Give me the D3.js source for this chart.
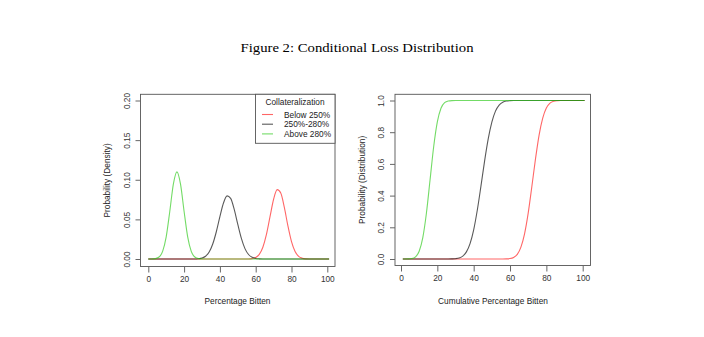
<!DOCTYPE html>
<html><head><meta charset="utf-8">
<script src="https://cdn.jsdelivr.net/npm/d3@7"></script>
<style>body{margin:0;background:#fff;}svg{display:block;}</style>
</head><body>
<script>
// ---- data ----
const seriesNames = ["Below 250%", "250%-280%", "Above 280%"];
const seriesColors = ["rgba(255,0,0,0.6)", "rgba(0,0,0,0.65)", "rgba(40,200,20,0.65)"];
const xTicks = [0, 20, 40, 60, 80, 100];
const densTicks = [0.00, 0.05, 0.10, 0.15, 0.20];
const cdfTicks = [0.0, 0.2, 0.4, 0.6, 0.8, 1.0];

// density: x positions and values
const redDensX = [0, 56, 58, 60, 62, 64, 66, 68, 70, 72, 74, 76, 78, 80, 82, 84, 86, 88, 90, 101];
const redDensY = [0, 0, 0.0005, 0.0019, 0.0058, 0.0148, 0.031, 0.0534, 0.0754, 0.0875, 0.0832, 0.065, 0.0417, 0.0219, 0.0095, 0.0034, 0.001, 0.0002, 0, 0];
const blackDensX = [0, 26, 28, 30, 32, 34, 36, 38, 40, 42, 44, 46, 48, 50, 52, 54, 56, 58, 60, 62, 64, 101];
const blackDensY = [0, 0, 0.0003, 0.0012, 0.0035, 0.0088, 0.0189, 0.0344, 0.0534, 0.0706, 0.0796, 0.0765, 0.0626, 0.0437, 0.026, 0.0131, 0.0057, 0.0021, 0.0007, 0.0002, 0, 0];
const greenDensX = [0, 2, 4, 6, 8, 10, 12, 14, 16, 18, 20, 22, 24, 26, 28, 30, 32, 101];
const greenDensY = [0, 0, 0.0005, 0.0025, 0.0097, 0.028, 0.06, 0.0945, 0.11, 0.0945, 0.06, 0.028, 0.0097, 0.0025, 0.0005, 0.0001, 0, 0];

// cumulative distribution
const redCdfX = [1, 56, 58, 60, 62, 64, 66, 68, 70, 72, 74, 76, 78, 80, 82, 84, 86, 88, 90, 101];
const redCdfY = [0, 0, 0.0007, 0.0027, 0.0099, 0.029, 0.075, 0.159, 0.289, 0.456, 0.63, 0.782, 0.889, 0.952, 0.983, 0.995, 0.9987, 0.9998, 1, 1];
const blackCdfX = [1, 26, 28, 30, 32, 34, 36, 38, 40, 42, 44, 46, 48, 50, 52, 54, 56, 58, 60, 62, 64, 101];
const blackCdfY = [0, 0, 0.0005, 0.0019, 0.0062, 0.018, 0.045, 0.097, 0.184, 0.309, 0.46, 0.618, 0.758, 0.864, 0.933, 0.971, 0.989, 0.9965, 0.999, 0.9998, 1, 1];
const greenCdfX = [1, 2, 4, 6, 8, 10, 12, 14, 16, 18, 20, 22, 24, 26, 28, 30, 32, 101];
const greenCdfY = [0, 0, 0.0005, 0.003, 0.014, 0.049, 0.135, 0.29, 0.5, 0.71, 0.865, 0.951, 0.986, 0.997, 0.9995, 0.9999, 1, 1];

const densSeries = [[redDensX, redDensY], [blackDensX, blackDensY], [greenDensX, greenDensY]];
const cdfSeries = [[redCdfX, redCdfY], [blackCdfX, blackCdfY], [greenCdfX, greenCdfY]];

// ---- drawing ----
const W = 704, H = 337;
const svg = d3.select("body").append("svg").attr("width", W).attr("height", H);
const sans = "'Liberation Sans', Arial, Helvetica, sans-serif";
const fs = "8.3px";

svg.append("text").attr("x", 357).attr("y", 51.5).attr("text-anchor", "middle")
  .style("font-family", "'Liberation Serif', 'DejaVu Serif', serif").style("font-size", "13px")
  .attr("textLength", 233).attr("lengthAdjust", "spacingAndGlyphs")
  .text("Figure 2: Conditional Loss Distribution");

function panel(cfg) {
  const g = svg.append("g");
  const x = d3.scaleLinear().domain([0, 100]).range([cfg.x0, cfg.x100]);
  const y = d3.scaleLinear().domain([cfg.yMin, cfg.yMax]).range([259, 100.5]);
  const box = cfg.box;
  // curves
  const line = d3.line().x(d => x(d[0])).y(d => y(d[1])).curve(d3.curveMonotoneX);
  cfg.series.forEach((s, i) => {
    const pts = s[0].map((v, k) => [v, s[1][k]]);
    g.append("path").attr("d", line(pts)).attr("fill", "none")
      .attr("stroke", seriesColors[i]).attr("stroke-width", 1.1);
  });
  // box
  g.append("rect").attr("x", box[0]).attr("y", box[1]).attr("width", box[2] - box[0]).attr("height", box[3] - box[1])
    .attr("fill", "none").attr("stroke", "#555").attr("stroke-width", 0.9);
  // x axis
  const xa = g.append("g").attr("transform", `translate(0,${box[3]})`)
    .call(d3.axisBottom(x).tickValues(xTicks).tickSize(6).tickSizeOuter(0).tickPadding(4).tickFormat(d3.format("d")));
  xa.select(".domain").remove();
  xa.selectAll(".tick line").attr("stroke", "#666");
  xa.selectAll("text").style("font-family", sans).style("font-size", fs).attr("fill", "#333");
  // y axis
  const ya = g.append("g").attr("transform", `translate(${box[0]},0)`)
    .call(d3.axisLeft(y).tickValues(cfg.yTicks).tickSize(5).tickSizeOuter(0).tickFormat(d3.format(cfg.fmt)));
  ya.select(".domain").remove();
  ya.selectAll(".tick line").attr("stroke", "#666");
  ya.selectAll("text").remove();
  ya.selectAll(".tick").append("text").attr("transform", `translate(-11,0) rotate(-90)`)
    .attr("text-anchor", "middle").attr("fill", "#333")
    .style("font-family", sans).style("font-size", fs).text(d => d3.format(cfg.fmt)(d));
  // axis titles
  g.append("text").attr("x", cfg.xlabX).attr("y", 303.5).attr("text-anchor", "middle")
    .style("font-family", sans).style("font-size", fs).attr("fill", "#222").text(cfg.xlab);
  g.append("text").attr("transform", `translate(${cfg.ylabX},${(box[1] + box[3]) / 2}) rotate(-90)`)
    .attr("text-anchor", "middle").style("font-family", sans).style("font-size", fs).attr("fill", "#222").text(cfg.ylab);
  return g;
}

panel({x0: 148.3, x100: 327.3, yMin: 0, yMax: 0.2, box: [140.5, 94.3, 335, 266.5],
  series: densSeries, yTicks: densTicks, fmt: ".2f", xlab: "Percentage Bitten", xlabX: 237.5,
  ylab: "Probability (Density)", ylabX: 110});
panel({x0: 401, x100: 582.7, yMin: 0, yMax: 1, box: [395, 94.3, 590.5, 265.5],
  series: cdfSeries, yTicks: cdfTicks, fmt: ".1f", xlab: "Cumulative Percentage Bitten", xlabX: 493,
  ylab: "Probability (Distribution)", ylabX: 364.5});

// legend
const lg = svg.append("g");
lg.append("rect").attr("x", 255.5).attr("y", 94.3).attr("width", 79.5).attr("height", 49)
  .attr("fill", "#fff").attr("stroke", "#555").attr("stroke-width", 0.9);
lg.append("text").attr("x", 295).attr("y", 104.8).attr("text-anchor", "middle")
  .style("font-family", sans).style("font-size", fs).attr("fill", "#222").text("Collateralization");
seriesNames.forEach((n, i) => {
  const yy = 114.5 + i * 9.7;
  lg.append("line").attr("x1", 262).attr("x2", 273).attr("y1", yy).attr("y2", yy)
    .attr("stroke", seriesColors[i]).attr("stroke-width", 1.1);
  lg.append("text").attr("x", 284).attr("y", yy + 3).style("font-family", sans).style("font-size", fs)
    .attr("fill", "#222").text(n);
});
</script>
</body></html>
